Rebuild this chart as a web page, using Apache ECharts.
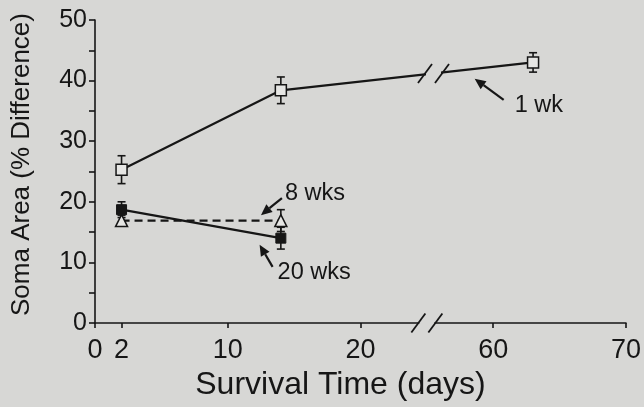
<!DOCTYPE html>
<html lang="en">
<head>
<meta charset="UTF-8">
<title>Soma Area</title>
<script src="https://cdn.jsdelivr.net/npm/echarts@6/dist/echarts.min.js"></script>
<style>html,body{margin:0;padding:0;background:#d7d7d5;}</style>
</head>
<body>
<div id="main" style="width:644px;height:407px;"></div>
<script>
// values (days, % difference)
var days1wk = [2, 14, 63];
var soma1wk = [25.3, 38.4, 43.0];
var err1wk = [2.3, 2.2, 1.6];
var days8wk = [2, 14];
var soma8wk = [16.9, 16.9];
var err8wk = [0.9, 1.8];
var days20wk = [2, 14];
var soma20wk = [18.7, 14.0];
var err20wk = [1.3, 1.8];
var xTickDays = [0, 2, 10, 20, 60, 70];
var yTickLabels = [0, 10, 20, 30, 40, 50];
var annoText = ['1 wk', '8 wks', '20 wks'];
var annoDay = [58.6, 12.5, 12.4];
var annoValue = [40.3, 17.8, 12.9];

var INK = '#161616';
var PAPER = '#d7d7d5';
var FONT = '"Liberation Sans", Arial, sans-serif';

// broken x axis: 30 days are cut out after day 25
var CUT = 30;
function pos(d) { return d > 40 ? d - CUT : d; }
var xTickPos = xTickDays.map(pos);
var axisBreakPos = 25.0, lineBreakPos = 25.5;

function pts(days, vals) {
    return days.map(function (d, i) { return [pos(d), vals[i]]; });
}
function errPts(days, vals, errs) {
    return days.map(function (d, i) { return [pos(d), vals[i], errs[i]]; });
}

// y of the 1 wk line where it is broken
var p1 = pts(days1wk, soma1wk);
var lineBreakY = p1[1][1] + (lineBreakPos - p1[1][0]) / (p1[2][0] - p1[1][0]) * (p1[2][1] - p1[1][1]);

function ln(x1, y1, x2, y2, w) {
    return {type: 'line', shape: {x1: x1, y1: y1, x2: x2, y2: y2}, style: {stroke: INK, lineWidth: w}};
}

function renderErr(params, api) {
    var x = api.value(0), y = api.value(1), e = api.value(2);
    var t = api.coord([x, y + e]), b = api.coord([x, y - e]);
    var w = 4;
    return {type: 'group', children: [
        ln(t[0], t[1], b[0], b[1], 1.6),
        ln(t[0] - w, t[1], t[0] + w, t[1], 1.6),
        ln(b[0] - w, b[1], b[0] + w, b[1], 1.6)
    ]};
}

function renderBreak(params, api) {
    var c = api.coord([api.value(0), api.value(1)]);
    var h = 8.5;
    return {type: 'group', children: [
        {type: 'rect', shape: {x: c[0] - h + 1, y: c[1] - 4, width: 2 * h - 2, height: 8}, style: {fill: PAPER}},
        ln(c[0] - h - 7, c[1] + 9.5, c[0] - h + 7, c[1] - 9.5, 1.8),
        ln(c[0] + h - 7, c[1] + 9.5, c[0] + h + 7, c[1] - 9.5, 1.8)
    ]};
}

var annoLayout = [
    {tail: [29, 21], text: [40, 27]},
    {tail: [21, -17], text: [24, -22]},
    {tail: [13, 22], text: [18, 28]}
];
function renderAnno(params, api) {
    var tip = api.coord([api.value(0), api.value(1)]);
    var lay = annoLayout[params.dataIndex];
    var tx = tip[0] + lay.tail[0], ty = tip[1] + lay.tail[1];
    var ang = Math.atan2(ty - tip[1], tx - tip[0]);
    var L = 11, W = 5;
    var bx = tip[0] + L * Math.cos(ang), by = tip[1] + L * Math.sin(ang);
    var nx = -Math.sin(ang) * W, ny = Math.cos(ang) * W;
    return {type: 'group', children: [
        ln(bx, by, tx, ty, 2.2),
        {type: 'polygon', shape: {points: [[tip[0], tip[1]], [bx + nx, by + ny], [bx - nx, by - ny]]}, style: {fill: INK}},
        {type: 'text', style: {
            text: annoText[params.dataIndex], x: tip[0] + lay.text[0], y: tip[1] + lay.text[1],
            fill: INK, font: '23.5px ' + FONT, align: 'left', verticalAlign: 'middle',
            textAlign: 'left', textVerticalAlign: 'middle'
        }}
    ]};
}

var chart = echarts.init(document.getElementById('main'));
var option = {
    backgroundColor: PAPER,
    animation: false,
    grid: {left: 95, right: 11, top: 20, bottom: 84},
    xAxis: {
        type: 'value', min: 0, max: 40,
        name: 'Survival Time (days)', nameLocation: 'middle', nameGap: 46,
        nameTextStyle: {color: INK, fontSize: 32, fontFamily: FONT, padding: [0, 40, 0, 0]},
        axisLine: {lineStyle: {color: INK, width: 1.6}},
        axisTick: {customValues: xTickPos, length: 5, lineStyle: {color: INK, width: 1.6}},
        axisLabel: {
            customValues: xTickPos, margin: 14, color: INK, fontSize: 27, fontFamily: FONT,
            formatter: function (v) { return xTickDays[xTickPos.indexOf(v)]; }
        },
        splitLine: {show: false}
    },
    yAxis: {
        type: 'value', min: 0, max: 50, interval: 5,
        name: 'Soma Area (% Difference)', nameLocation: 'middle', nameGap: 60,
        nameTextStyle: {color: INK, fontSize: 26, fontFamily: FONT, padding: [0, 0, 0, 14]},
        axisLine: {show: true, lineStyle: {color: INK, width: 1.6}},
        axisTick: {show: true, length: 6, lineStyle: {color: INK, width: 1.6}},
        axisLabel: {
            margin: 8, color: INK, fontSize: 25, fontFamily: FONT,
            formatter: function (v) { return yTickLabels.indexOf(v) >= 0 ? v : ''; }
        },
        splitLine: {show: false}
    },
    series: [
        {
            type: 'custom', z: 1, renderItem: renderErr,
            data: errPts(days1wk, soma1wk, err1wk)
                .concat(errPts(days8wk, soma8wk, err8wk))
                .concat(errPts(days20wk, soma20wk, err20wk))
        },
        {
            name: '1 wk', type: 'line', data: p1, z: 3,
            symbol: 'rect', symbolSize: 11,
            lineStyle: {color: INK, width: 2.2},
            itemStyle: {color: '#e6e6e4', borderColor: INK, borderWidth: 1.5}
        },
        {
            name: '8 wks', type: 'line', data: pts(days8wk, soma8wk), z: 3,
            symbol: 'triangle', symbolSize: 12,
            lineStyle: {color: INK, width: 2.2, type: [8, 5]},
            itemStyle: {color: '#e6e6e4', borderColor: INK, borderWidth: 1.5}
        },
        {
            name: '20 wks', type: 'line', data: pts(days20wk, soma20wk), z: 4,
            symbol: 'rect', symbolSize: 10,
            lineStyle: {color: INK, width: 2.2},
            itemStyle: {color: INK, borderColor: INK, borderWidth: 1}
        },
        {
            type: 'custom', z: 6, renderItem: renderBreak,
            data: [[axisBreakPos, 0], [lineBreakPos, lineBreakY]]
        },
        {
            type: 'custom', z: 6, renderItem: renderAnno,
            data: annoDay.map(function (d, i) { return [pos(d), annoValue[i]]; })
        }
    ]
};
chart.setOption(option);
</script>
</body>
</html>
